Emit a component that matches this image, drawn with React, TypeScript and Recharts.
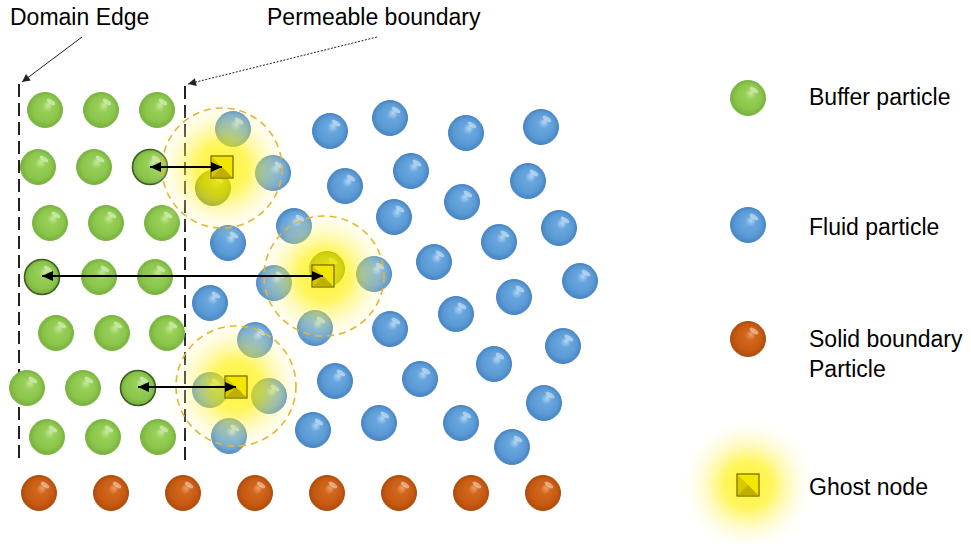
import React from 'react';
import { ScatterChart, Scatter, XAxis, YAxis, ReferenceLine } from 'recharts';

// Diagram coordinate system: x 0..971 (left→right), y 0..544 (top→bottom)
const bufferParticles = [
  { x: 45, y: 110 }, { x: 101, y: 110 }, { x: 157, y: 110 },
  { x: 38, y: 167 }, { x: 94, y: 167 },
  { x: 50, y: 223 }, { x: 106, y: 223 }, { x: 162, y: 223 },
  { x: 99, y: 277 }, { x: 155, y: 277 },
  { x: 56, y: 333 }, { x: 112, y: 333 }, { x: 167, y: 333 },
  { x: 27, y: 388 }, { x: 83, y: 388 },
  { x: 47, y: 437 }, { x: 103, y: 437 }, { x: 158, y: 437 },
];
const sourceBufferParticles = [
  { x: 150, y: 167 }, { x: 42, y: 277 }, { x: 138, y: 388 },
];
const bufferInGhost = [
  { x: 213, y: 188 }, { x: 327, y: 269 },
];
const fluidParticles = [
  { x: 233, y: 129 }, { x: 330, y: 131 }, { x: 390, y: 118 }, { x: 466, y: 133 }, { x: 541, y: 127 },
  { x: 273, y: 173 }, { x: 411, y: 171 }, { x: 345, y: 186 }, { x: 528, y: 181 }, { x: 462, y: 202 },
  { x: 394, y: 217 }, { x: 294, y: 226 }, { x: 559, y: 228 }, { x: 228, y: 243 }, { x: 499, y: 242 },
  { x: 434, y: 262 }, { x: 274, y: 283 }, { x: 374, y: 274 }, { x: 580, y: 281 }, { x: 210, y: 303 },
  { x: 514, y: 297 }, { x: 456, y: 314 }, { x: 315, y: 328 }, { x: 390, y: 329 }, { x: 255, y: 340 },
  { x: 563, y: 346 }, { x: 494, y: 364 }, { x: 335, y: 381 }, { x: 420, y: 379 }, { x: 210, y: 390 },
  { x: 269, y: 396 }, { x: 544, y: 403 }, { x: 313, y: 430 }, { x: 379, y: 423 }, { x: 461, y: 423 },
  { x: 229, y: 436 }, { x: 512, y: 447 },
];
const solidParticles = [
  { x: 39, y: 493 }, { x: 111, y: 493 }, { x: 183, y: 493 }, { x: 255, y: 493 },
  { x: 327, y: 493 }, { x: 399, y: 493 }, { x: 471, y: 493 }, { x: 543, y: 493 },
];
const ghostNodes = [
  { x: 222, y: 167 }, { x: 323, y: 276 }, { x: 236, y: 387 },
];
const ghostSupport = [
  { x: 222, y: 168 }, { x: 324, y: 276 }, { x: 236, y: 386 },
];
const mirrorArrows = [
  [{ x: 150, y: 167, dx: -1, dy: 0 }, { x: 222, y: 167, dx: 1, dy: 0 }],
  [{ x: 42, y: 276, dx: -1, dy: 0 }, { x: 323, y: 276, dx: 1, dy: 0 }],
  [{ x: 138, y: 387, dx: -1, dy: 0 }, { x: 236, y: 387, dx: 1, dy: 0 }],
];
const domainEdgeLeader = [
  { x: 82, y: 37, dx: 0, dy: 0 }, { x: 22, y: 82, dx: -60, dy: 45 },
];
const permeableLeader = [
  { x: 377, y: 37, dx: 0, dy: 0 }, { x: 188, y: 84, dx: -189, dy: 47 },
];
const titleLabels = [
  { x: 10, y: 25, text: 'Domain Edge' },
  { x: 267, y: 25, text: 'Permeable boundary' },
];
const legendBuffer = [{ x: 748, y: 98 }];
const legendFluid = [{ x: 748, y: 225 }];
const legendSolid = [{ x: 748, y: 339 }];
const legendGhost = [{ x: 748, y: 485 }];
const legendLabels = [
  { x: 809, y: 105, text: 'Buffer particle' },
  { x: 809, y: 235, text: 'Fluid particle' },
  { x: 809, y: 347, text: 'Solid boundary' },
  { x: 809, y: 377, text: 'Particle' },
  { x: 809, y: 495, text: 'Ghost node' },
];

const R = 17.5;
const FONT = "Arimo, 'Liberation Sans', Arial, sans-serif";

const ball = (grad: string, stroke: string, sw = 1) => (p: any) => (
  <g>
    <circle cx={p.cx} cy={p.cy} r={R} fill={`url(#${grad})`} stroke={stroke} strokeWidth={sw} />
    <ellipse cx={p.cx + 6} cy={p.cy - 8} rx={5} ry={2.2} transform={`rotate(35 ${p.cx + 6} ${p.cy - 8})`} fill="#fff" fillOpacity={0.45} />
  </g>
);

const glow = (r: number, dashed: boolean) => (p: any) => (
  <g>
    <circle cx={p.cx} cy={p.cy} r={r} fill="url(#glowGrad)" />
    {dashed && (
      <circle cx={p.cx} cy={p.cy} r={60} fill="none" stroke="#E2B43C" strokeWidth={1.6} strokeDasharray="7 5" />
    )}
  </g>
);

const ghostSquare = (p: any) => {
  const s = 11;
  const { cx, cy } = p;
  return (
    <g>
      <rect x={cx - s} y={cy - s} width={2 * s} height={2 * s} fill="#F3E600" stroke="#6E6600" strokeWidth={1.2} />
      <polygon points={`${cx - s + 1},${cy - s + 1} ${cx - s + 1},${cy + s - 1} ${cx + s - 1},${cy + s - 1}`} fill="#D8C800" />
      <polygon points={`${cx - s + 1},${cy + s - 1} ${cx + s - 1},${cy + s - 1} ${cx},${cy}`} fill="#BFAF00" />
    </g>
  );
};

const arrowHead = (len: number, wid: number, color: string) => (p: any) => {
  const { dx, dy } = p.payload;
  if (!dx && !dy) return <g />;
  const L = Math.hypot(dx, dy);
  const ux = dx / L, uy = dy / L;
  const { cx, cy } = p;
  const bx = cx - ux * len, by = cy - uy * len;
  const pts = `${cx},${cy} ${bx - uy * wid},${by + ux * wid} ${bx + uy * wid},${by - ux * wid}`;
  return <polygon points={pts} fill={color} />;
};

const textShape = (p: any) => (
  <text x={p.cx} y={p.cy} fontFamily={FONT} fontSize={23} fill="#000">{p.payload.text}</text>
);

export default function App() {
  return (
    <div style={{ position: 'absolute', left: 0, top: 0, width: 971, height: 544, background: '#fff' }}>
      <svg width={0} height={0} style={{ position: 'absolute' }}>
        <defs>
          <radialGradient id="greenGrad" cx="50%" cy="50%" r="50%" fx="60%" fy="35%">
            <stop offset="0%" stopColor="#C8EB9C" />
            <stop offset="30%" stopColor="#97CF58" />
            <stop offset="75%" stopColor="#8AC54A" />
            <stop offset="100%" stopColor="#77B03E" />
          </radialGradient>
          <radialGradient id="oliveGrad" cx="50%" cy="50%" r="50%" fx="60%" fy="35%">
            <stop offset="0%" stopColor="#B8C860" />
            <stop offset="30%" stopColor="#8FA83A" />
            <stop offset="75%" stopColor="#7F9A30" />
            <stop offset="100%" stopColor="#6A8428" />
          </radialGradient>
          <radialGradient id="blueGrad" cx="50%" cy="50%" r="50%" fx="60%" fy="35%">
            <stop offset="0%" stopColor="#B8D8F4" />
            <stop offset="30%" stopColor="#68A6DE" />
            <stop offset="75%" stopColor="#5A9AD4" />
            <stop offset="100%" stopColor="#4785C4" />
          </radialGradient>
          <radialGradient id="orangeGrad" cx="50%" cy="50%" r="50%" fx="60%" fy="35%">
            <stop offset="0%" stopColor="#EDA066" />
            <stop offset="30%" stopColor="#D3661D" />
            <stop offset="75%" stopColor="#C65A12" />
            <stop offset="100%" stopColor="#AE4C0C" />
          </radialGradient>
          <radialGradient id="glowGrad" cx="50%" cy="50%" r="50%">
            <stop offset="0%" stopColor="#FFF000" stopOpacity={0.8} />
            <stop offset="35%" stopColor="#FFF000" stopOpacity={0.62} />
            <stop offset="70%" stopColor="#FFF590" stopOpacity={0.28} />
            <stop offset="100%" stopColor="#FFFFFF" stopOpacity={0} />
          </radialGradient>
        </defs>
      </svg>
      <ScatterChart width={971} height={544} margin={{ top: 0, right: 0, bottom: 0, left: 0 }}>
        <XAxis type="number" dataKey="x" domain={[0, 971]} allowDataOverflow hide />
        <YAxis type="number" dataKey="y" domain={[0, 544]} reversed allowDataOverflow hide />

        <ReferenceLine segment={[{ x: 19, y: 84 }, { x: 19, y: 462 }]} stroke="#222" strokeWidth={2} strokeDasharray="13 6" ifOverflow="visible" />
        <ReferenceLine segment={[{ x: 185, y: 86 }, { x: 185, y: 462 }]} stroke="#222" strokeWidth={2} strokeDasharray="13 6" ifOverflow="visible" />

        <Scatter data={bufferParticles} shape={ball('greenGrad', '#7DB945')} isAnimationActive={false} />
        <Scatter data={sourceBufferParticles} shape={ball('greenGrad', '#3D5E22', 1.6)} isAnimationActive={false} />
        <Scatter data={bufferInGhost} shape={ball('oliveGrad', '#5F7A25')} isAnimationActive={false} />
        <Scatter data={fluidParticles} shape={ball('blueGrad', '#4A86C4')} isAnimationActive={false} />
        <Scatter data={solidParticles} shape={ball('orangeGrad', '#B0500E')} isAnimationActive={false} />

        <Scatter data={ghostSupport} shape={glow(74, true)} isAnimationActive={false} />

        <Scatter data={ghostNodes} shape={ghostSquare} isAnimationActive={false} />
        {mirrorArrows.map((a, i) => (
          <Scatter key={i} data={a} line={{ stroke: '#000', strokeWidth: 2 }} shape={arrowHead(11, 5, '#000')} isAnimationActive={false} />
        ))}

        <Scatter data={domainEdgeLeader} line={{ stroke: '#222', strokeWidth: 1 }} shape={arrowHead(8, 4, '#222')} isAnimationActive={false} />
        <Scatter data={permeableLeader} line={{ stroke: '#222', strokeWidth: 1, strokeDasharray: '2 1.5' }} shape={arrowHead(8, 4, '#222')} isAnimationActive={false} />
        <Scatter data={titleLabels} shape={textShape} isAnimationActive={false} />

        <Scatter data={legendBuffer} shape={ball('greenGrad', '#7DB945')} isAnimationActive={false} />
        <Scatter data={legendFluid} shape={ball('blueGrad', '#4A86C4')} isAnimationActive={false} />
        <Scatter data={legendSolid} shape={ball('orangeGrad', '#B0500E')} isAnimationActive={false} />
        <Scatter data={legendGhost} shape={glow(70, false)} isAnimationActive={false} />
        <Scatter data={legendGhost} shape={ghostSquare} isAnimationActive={false} />
        <Scatter data={legendLabels} shape={textShape} isAnimationActive={false} />
      </ScatterChart>
    </div>
  );
}
